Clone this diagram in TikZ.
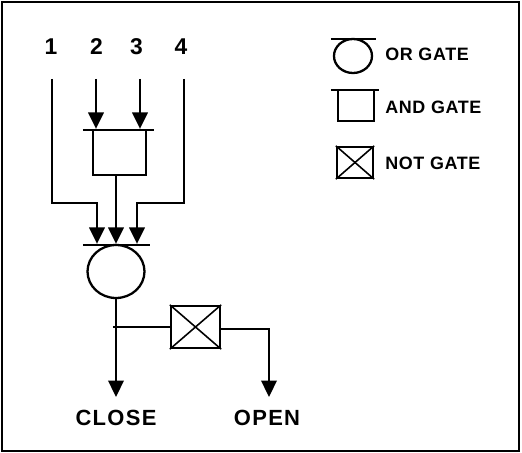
\documentclass[tikz,border=0pt]{standalone}
\usepackage{fontspec}
\setmainfont{Liberation Sans}
\newfontfamily\capsfont[LetterSpace=6]{Liberation Sans}
\newfontfamily\legfont[LetterSpace=3.5]{Liberation Sans}
\usetikzlibrary{arrows.meta,shapes.geometric}
\tikzset{
  gateline/.style={line width=1.3pt},
  flow/.style={line width=1.3pt,-{Triangle[length=.33cm,width=.31cm]}},
  wire/.style={line width=1.3pt},
  orgatebox/.style={draw,ellipse,line width=1.3pt,inner sep=0pt},
  andgatebox/.style={draw,rectangle,line width=1.3pt,inner sep=0pt},
  notgatebox/.style={draw,rectangle,line width=1.3pt,inner sep=0pt},
  numtext/.style={font=\bfseries\fontsize{13pt}{14pt}\selectfont,inner sep=0pt},
  outtext/.style={font=\capsfont\bfseries\fontsize{12.5pt}{13pt}\selectfont,inner sep=0pt},
  legtext/.style={font=\legfont\bfseries\fontsize{10.2pt}{11pt}\selectfont,inner sep=0pt,anchor=west}
}
\begin{document}
\begin{tikzpicture}[x=.02cm,y=-.02cm]
\useasboundingbox (0,0) rectangle (522,453);
\draw[line width=1.2pt] (2,2) rectangle (519,451);
% inputs
\node[numtext] (one) at (51,47) {1};
\node[numtext] (two) at (96.5,47) {2};
\node[numtext] (three) at (136.5,47) {3};
\node[numtext] (four) at (181,47) {4};
\coordinate (in1) at (52,79);\coordinate (in2) at (96,79);
\coordinate (in3) at (140,79);\coordinate (in4) at (184,79);
% gates
\node[andgatebox,minimum width=1.06cm,minimum height=.9cm] (andgate) at (119.5,152.5) {};
\draw[gateline] (83,130)--(154,130);
\node[orgatebox,minimum width=1.14cm,minimum height=1.06cm] (orgate) at (116,271.5) {};
\draw[gateline] (83,245)--(150,245);
\node[notgatebox,minimum width=.98cm,minimum height=.84cm] (notgate) at (195.5,327) {};
\draw[line width=.9pt] (notgate.north west)--(notgate.south east);
\draw[line width=.9pt] (notgate.north east)--(notgate.south west);
% wires
\draw[flow] (in2)--(in2 |- andgate.north);
\draw[flow] (in3)--(in3 |- andgate.north);
\coordinate (bend1) at (97,203);\coordinate (bend4) at (137,203);
\draw[flow] (in1) |- (bend1)--(bend1 |- orgate.north);
\draw[flow] (in4) |- (bend4)--(bend4 |- orgate.north);
\coordinate (mid) at (116,175);
\draw[flow] (mid)--(mid |- orgate.north);
% outputs
\node[outtext] (close) at (116,418) {CLOSE};
\node[outtext] (open) at (267,418) {OPEN};
\coordinate (closeend) at (116,397);\coordinate (openend) at (269,397);
\coordinate (tap) at (113,327);\coordinate (notout) at (220,329);
\draw[flow] (orgate.south)--(closeend);
\draw[wire] (tap)--(notgate.west);
\draw[flow] (notout) -| (openend);
% legend
\node[orgatebox,minimum width=.76cm,minimum height=.68cm] (legor) at (353,56) {};
\draw[gateline] (331,39)--(376,39);
\node[legtext] (ortext) at (385,54) {OR GATE};
\node[andgatebox,minimum width=.72cm,minimum height=.62cm] (legand) at (356,105.5) {};
\draw[gateline] (331,90)--(379,90);
\node[legtext] (andtext) at (385,107) {AND GATE};
\node[notgatebox,minimum width=.72cm,minimum height=.62cm] (legnot) at (355,162.5) {};
\draw[line width=.9pt] (legnot.north west)--(legnot.south east);
\draw[line width=.9pt] (legnot.north east)--(legnot.south west);
\node[legtext] (nottext) at (385,163) {NOT GATE};
\end{tikzpicture}
\end{document}
